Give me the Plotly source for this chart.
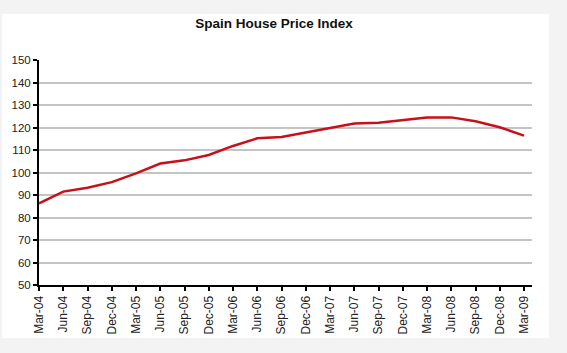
import plotly.graph_objects as go

categories = ["Mar-04", "Jun-04", "Sep-04", "Dec-04", "Mar-05", "Jun-05", "Sep-05",
              "Dec-05", "Mar-06", "Jun-06", "Sep-06", "Dec-06", "Mar-07", "Jun-07",
              "Sep-07", "Dec-07", "Mar-08", "Jun-08", "Sep-08", "Dec-08", "Mar-09"]
index_values = [86.3, 91.5, 93.2, 95.7, 99.6, 104.0, 105.4, 107.8, 111.8, 115.2, 115.8,
                117.7, 119.8, 121.8, 122.1, 123.1, 124.4, 124.5, 122.8, 120.1, 116.4]
y_ticks = [50, 60, 70, 80, 90, 100, 110, 120, 130, 140, 150]

fig = go.Figure()
fig.add_trace(go.Scatter(
    x=categories, y=index_values, mode="lines",
    line=dict(color="#c8101a", width=2.5),
    hoverinfo="x+y", showlegend=False,
))

fig.update_layout(
    width=567, height=353,
    margin=dict(l=37, r=35, t=60, b=68),
    paper_bgcolor="#f3f3f3",
    plot_bgcolor="rgba(0,0,0,0)",
    title=dict(text="<b>Spain House Price Index</b>", x=274/567, xanchor="center",
               y=1 - 23/353, yanchor="middle",
               font=dict(family="Liberation Sans, Arial", size=13.5, color="#111")),
    font=dict(family="Liberation Sans, Arial", color="#222"),
    shapes=[dict(type="rect", xref="paper", yref="paper", layer="below",
                 x0=-37/495, x1=(549-37)/495, y0=-(338-285)/225, y1=1 + (60-14)/225,
                 fillcolor="white", line=dict(width=0))],
)

fig.update_xaxes(
    type="category", range=[0, 20.33],
    showgrid=False, showline=True, linecolor="black", linewidth=2,
    ticks="outside", ticklen=4, tickwidth=2, tickcolor="black",
    tickangle=-90, tickfont=dict(size=12, color="#222"),
    zeroline=False,
)
fig.update_yaxes(
    range=[50, 150], tickvals=y_ticks,
    showgrid=True, gridcolor="#c4c4c4", gridwidth=2,
    showline=True, linecolor="black", linewidth=2,
    ticks="outside", ticklen=4, tickwidth=2, tickcolor="black",
    tickfont=dict(size=11.5, color="#222"),
    zeroline=False,
)

fig.write_html("out.html")
